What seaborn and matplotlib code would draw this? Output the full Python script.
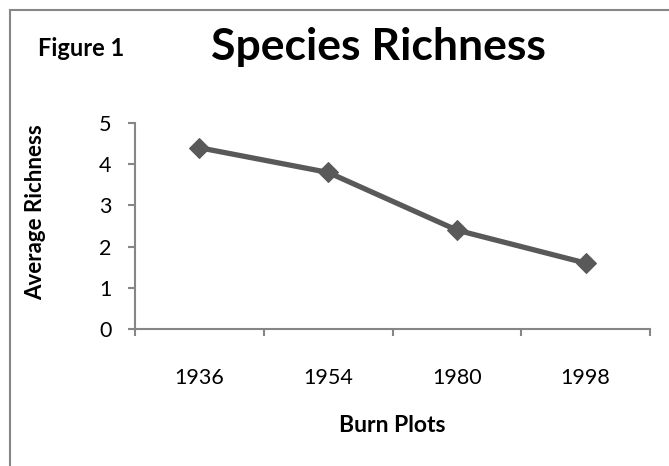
import matplotlib
matplotlib.use("Agg")
import matplotlib.pyplot as plt
import seaborn as sns
import pandas as pd
from matplotlib.patches import Rectangle
from matplotlib.ticker import FixedLocator

years = ["1936", "1954", "1980", "1998"]
richness = [4.4, 3.8, 2.4, 1.6]
yticks = [0, 1, 2, 3, 4, 5]

df = pd.DataFrame({"Burn Plots": years, "Average Richness": richness})

sns.set_theme(style="white")
plt.rcParams["font.family"] = ["Lato", "DejaVu Sans"]
plt.rcParams["text.color"] = "black"

W, H = 669, 466
fig = plt.figure(figsize=(W / 100, H / 100), dpi=100)
ax = fig.add_axes([135 / W, 1 - 329 / H, (650 - 135) / W, (329 - 123) / H])

gray = "#868686"
line_c = "#595959"

sns.lineplot(data=df, x="Burn Plots", y="Average Richness", ax=ax,
             color=line_c, linewidth=3.8, marker="D", markersize=10,
             markeredgecolor=line_c, markerfacecolor=line_c, sort=False)

ax.set_xlim(-0.5, len(years) - 0.5)
ax.set_ylim(0, 5)
ax.set_yticks(yticks)
ax.set_yticklabels([str(t) for t in yticks])
ax.set_xticks(range(len(years)))
ax.set_xticklabels(years)
ax.xaxis.set_minor_locator(FixedLocator([i - 0.5 for i in range(len(years) + 1)]))

for s in ["top", "right"]:
    ax.spines[s].set_visible(False)
for s in ["left", "bottom"]:
    ax.spines[s].set_color(gray)
    ax.spines[s].set_linewidth(1.5)

ax.tick_params(axis="y", which="major", direction="out", length=5, width=1.5,
               color=gray, labelsize=15.5, pad=12, labelcolor="black", left=True)
ax.tick_params(axis="x", which="major", length=0, labelsize=15.5, pad=28,
               labelcolor="black", bottom=True)
ax.tick_params(axis="x", which="minor", direction="out", length=5, width=1.5,
               color=gray, bottom=True)
ax.set_xlabel("")
ax.set_ylabel("")
ax.grid(False)

fig.text(36 / W, 1 - 212 / H, "Average Richness", rotation=90, ha="center",
         va="center", fontsize=16, fontweight="bold", color="black")
fig.text(392 / W, 1 - 425 / H, "Burn Plots", ha="center", va="center",
         fontsize=16.5, fontweight="bold", color="black")
fig.text(378 / W, 1 - 47 / H, "Species Richness", ha="center", va="center",
         fontsize=32, fontweight="bold", color="black")
fig.text(38 / W, 1 - 48 / H, "Figure 1", ha="left", va="center",
         fontsize=17, fontweight="bold", color="black")

border = Rectangle((10 / W, -0.2), 1.2, (1 - 10 / H) + 0.2,
                   transform=fig.transFigure, fill=False,
                   edgecolor=gray, linewidth=1.5)
fig.add_artist(border)

fig.savefig("out.png", dpi=100)
